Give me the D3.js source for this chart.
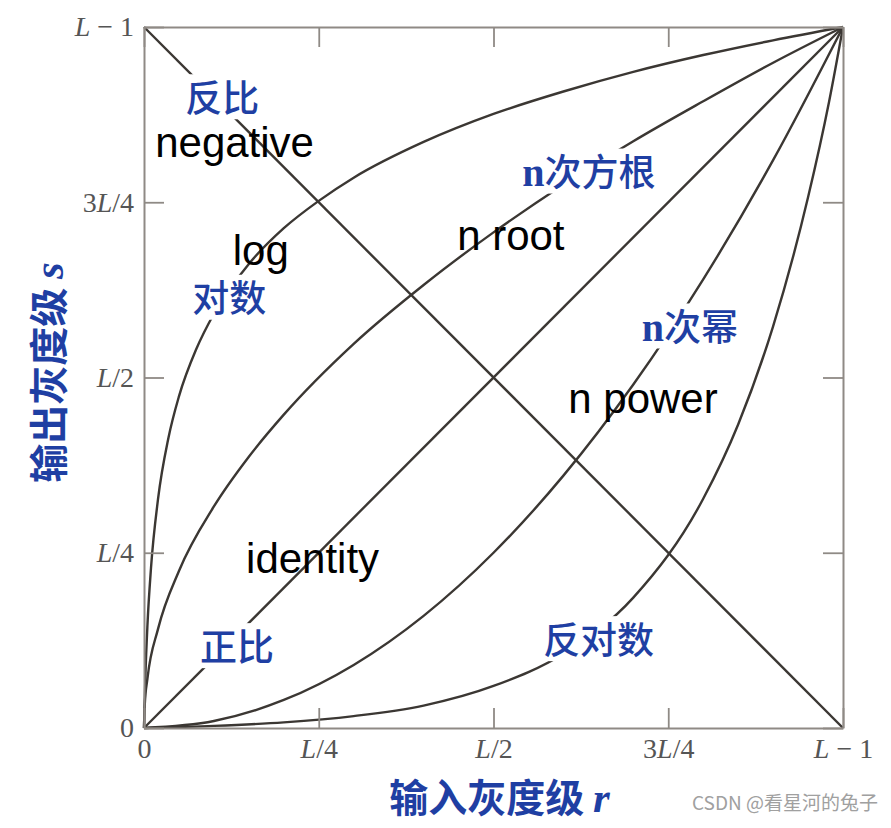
<!DOCTYPE html>
<html>
<head>
<meta charset="utf-8">
<script src="https://cdn.jsdelivr.net/npm/d3@7"></script>
<style>
  body { margin: 0; background: #fff; }
  svg { display: block; }
</style>
</head>
<body>
<div id="chart"></div>
<script>
// tick labels (same on both axes)
const tickValues = [0, 0.25, 0.5, 0.75, 1];
const tickLabels = ["0", "L/4", "L/2", "3L/4", "L \u2212 1"];

// curves, r = input level, s = output level (0..1 of L-1)
const negR = [0, 1];
const negS = [1, 0];

const identR = [0, 1];
const identS = [0, 1];

const logR = [0, 0.002, 0.005, 0.01, 0.02, 0.035, 0.05, 0.075, 0.1, 0.15, 0.2, 0.25, 0.3, 0.4, 0.5, 0.6, 0.7, 0.8, 0.9, 1];
const logS = [0, 0.074, 0.148, 0.228, 0.326, 0.414, 0.473, 0.541, 0.591, 0.662, 0.713, 0.752, 0.785, 0.836, 0.876, 0.908, 0.936, 0.960, 0.981, 1];

const rootR = [0, 0.001, 0.005, 0.02, 0.05, 0.1, 0.15, 0.2, 0.3, 0.4, 0.5, 0.6, 0.7, 0.8, 0.9, 1];
const rootS = [0, 0.032, 0.071, 0.141, 0.224, 0.316, 0.387, 0.447, 0.548, 0.632, 0.707, 0.775, 0.837, 0.894, 0.949, 1];

const powerR = [0, 0.1, 0.2, 0.3, 0.4, 0.5, 0.6, 0.7, 0.8, 0.9, 1];
const powerS = [0, 0.01, 0.04, 0.09, 0.16, 0.25, 0.36, 0.49, 0.64, 0.81, 1];

const invLogR = [0, 0.1, 0.2, 0.3, 0.4, 0.5, 0.6, 0.7, 0.8, 0.85, 0.9, 0.95, 0.98, 1];
const invLogS = [0, 0.003, 0.008, 0.017, 0.032, 0.06, 0.106, 0.186, 0.327, 0.433, 0.573, 0.757, 0.893, 1];

// label texts
const cnLabels = ["反比", "对数", "n次方根", "n次幂", "正比", "反对数"];
const enLabels = ["negative", "log", "n root", "n power", "identity"];

const W = 891, H = 828;
const svg = d3.select("#chart").append("svg")
    .attr("width", W).attr("height", H);

const x = d3.scaleLinear().domain([0, 1]).range([144, 843]);
const y = d3.scaleLinear().domain([0, 1]).range([728, 27]);

const curveColor = "#3b3733";
const frameColor = "#8f8a85";
const blue = "#1f3fa3";

const line = d3.line()
    .x(d => x(d[0]))
    .y(d => y(d[1]))
    .curve(d3.curveMonotoneX);

const curves = [
    d3.zip(negR, negS),
    d3.zip(identR, identS),
    d3.zip(logR, logS),
    d3.zip(rootR, rootS),
    d3.zip(powerR, powerS),
    d3.zip(invLogR, invLogS)
];

svg.append("g").selectAll("path")
    .data(curves)
    .enter().append("path")
    .attr("d", line)
    .attr("fill", "none")
    .attr("stroke", curveColor)
    .attr("stroke-width", 2.4);

// frame + inward ticks
function styleAxis(g) {
    g.select(".domain").attr("stroke", frameColor).attr("stroke-width", 2);
    g.selectAll(".tick line").attr("stroke", frameColor).attr("stroke-width", 1.8);
    g.selectAll(".tick text")
        .attr("fill", "#555")
        .style("font-family", "'Liberation Serif', 'DejaVu Serif', serif")
        .style("font-size", "28px");
}

function italicL(sel) {
    sel.each(function (d, i) {
        const t = d3.select(this);
        const label = tickLabels[i];
        t.text(null);
        for (const ch of label.split(/(L)/)) {
            if (!ch) continue;
            t.append("tspan")
                .style("font-style", ch === "L" ? "italic" : "normal")
                .text(ch);
        }
    });
}

const xAxis = svg.append("g")
    .attr("transform", "translate(0,728)")
    .call(d3.axisBottom(x).tickValues(tickValues).tickSizeInner(-20).tickSizeOuter(0).tickPadding(10)
        .tickFormat((d, i) => tickLabels[i]));
styleAxis(xAxis);
italicL(xAxis.selectAll(".tick text"));

const yAxis = svg.append("g")
    .attr("transform", "translate(144,0)")
    .call(d3.axisLeft(y).tickValues(tickValues).tickSizeInner(-20).tickSizeOuter(0).tickPadding(10)
        .tickFormat((d, i) => tickLabels[i]));
styleAxis(yAxis);
italicL(yAxis.selectAll(".tick text"));

const topAxis = svg.append("g")
    .attr("transform", "translate(0,27)")
    .call(d3.axisTop(x).tickValues(tickValues).tickSizeInner(-20).tickSizeOuter(0).tickFormat(""));
styleAxis(topAxis);

const rightAxis = svg.append("g")
    .attr("transform", "translate(843,0)")
    .call(d3.axisRight(y).tickValues(tickValues).tickSizeInner(-20).tickSizeOuter(0).tickFormat(""));
styleAxis(rightAxis);

// Chinese labels with white backing (they cut the curves)
const cnSize = 37;
const cnPos = [[0.059, 0.879], [0.069, 0.593], [0.541, 0.773], [0.712, 0.552], [0.080, 0.096], [0.571, 0.106]];
const cnG = svg.append("g");
cnLabels.forEach((txt, i) => {
    const g = cnG.append("g");
    const rect = g.append("rect").attr("fill", "#fff");
    const bx = x(cnPos[i][0]), by = y(cnPos[i][1]);
    const t = g.append("text")
        .attr("x", bx)
        .attr("y", by)
        .attr("fill", blue)
        .style("font-family", "'Noto Sans CJK SC', sans-serif")
        .style("font-size", cnSize + "px")
        .style("font-weight", 500);
    if (txt[0] === "n") {
        t.append("tspan")
            .style("font-family", "'Liberation Serif', serif")
            .style("font-weight", 700)
            .style("font-size", "40px")
            .text("n");
        t.append("tspan").text(txt.slice(1));
    } else {
        t.text(txt);
    }
    const b = t.node().getBBox();
    rect.attr("x", b.x - 7).attr("y", by - cnSize * 0.88 - 5)
        .attr("width", b.width + 14).attr("height", cnSize + 8);
});

// English labels
const enPos = [[0.016, 0.814], [0.127, 0.660], [0.448, 0.682], [0.607, 0.449], [0.146, 0.221]];
svg.append("g").selectAll("text")
    .data(enLabels)
    .enter().append("text")
    .attr("x", (d, i) => x(enPos[i][0]))
    .attr("y", (d, i) => y(enPos[i][1]))
    .attr("fill", "#000")
    .style("font-family", "'Liberation Sans', Arial, sans-serif")
    .style("font-size", "42px")
    .text(d => d);

// axis titles
const xTitle = svg.append("text")
    .attr("x", x(0.5) + 6).attr("y", 812)
    .attr("text-anchor", "middle")
    .attr("fill", blue)
    .style("font-family", "'Noto Sans CJK SC', sans-serif")
    .style("font-size", "39px")
    .style("font-weight", 700);
xTitle.append("tspan").text("输入灰度级 ");
xTitle.append("tspan")
    .style("font-family", "'Liberation Serif', serif")
    .style("font-style", "italic")
    .style("font-size", "43px")
    .text("r");

const yTitle = svg.append("text")
    .attr("transform", `translate(63,${y(0.5) - 5}) rotate(-90)`)
    .attr("text-anchor", "middle")
    .attr("fill", blue)
    .style("font-family", "'Noto Sans CJK SC', sans-serif")
    .style("font-size", "39px")
    .style("font-weight", 700);
yTitle.append("tspan").text("输出灰度级 ");
yTitle.append("tspan")
    .style("font-family", "'Liberation Serif', serif")
    .style("font-style", "italic")
    .style("font-size", "43px")
    .text("s");

// watermark
svg.append("text")
    .attr("x", 878).attr("y", 810)
    .attr("text-anchor", "end")
    .attr("fill", "#a0a0a0")
    .style("font-family", "'Noto Sans CJK SC', sans-serif")
    .style("font-size", "19px")
    .text("CSDN @看星河的兔子");
</script>
</body>
</html>
